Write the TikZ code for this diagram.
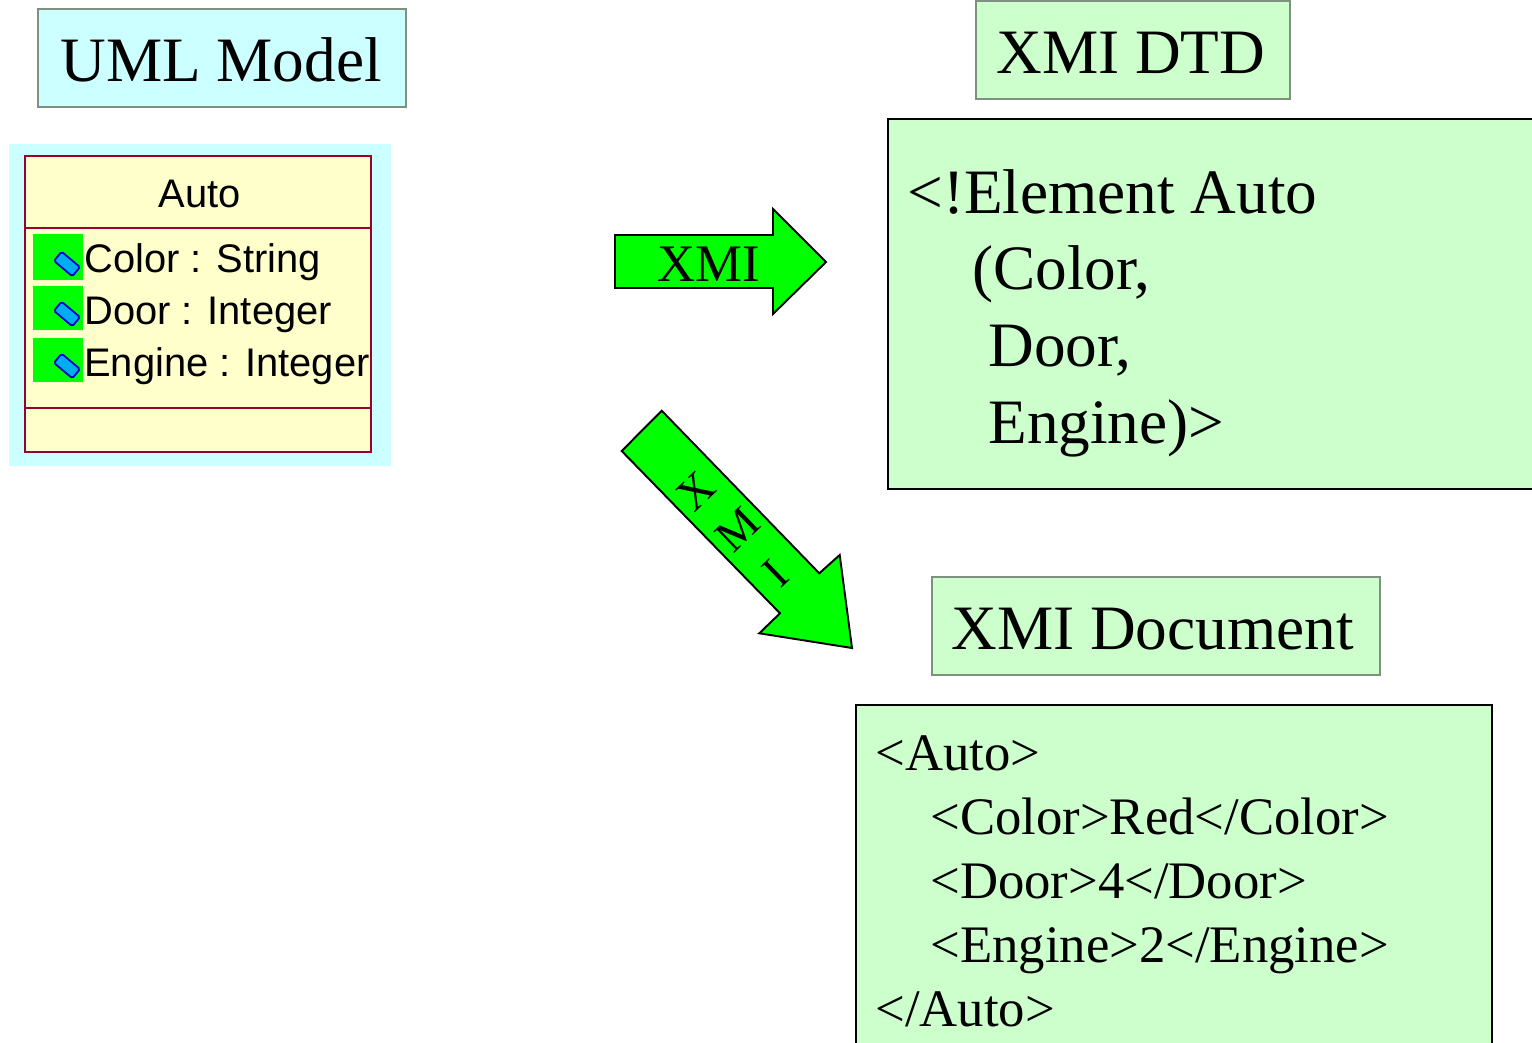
\documentclass[tikz,border=0pt]{standalone}
\usepackage{fontspec}
\setmainfont{Liberation Serif}
\setsansfont{Liberation Sans}
\definecolor{umlcyan}{RGB}{204,255,255}
\definecolor{xmigreen}{RGB}{204,255,204}
\definecolor{classyellow}{RGB}{255,255,204}
\definecolor{classred}{RGB}{153,0,51}
\definecolor{arrowgreen}{RGB}{0,255,0}
\definecolor{framegray}{RGB}{128,144,128}
\definecolor{iconblue}{RGB}{0,0,204}
\tikzset{
    bigtext/.style={anchor=base west, inner sep=0pt, font=\fontsize{36}{36}\selectfont},
    doctext/.style={anchor=base west, inner sep=0pt, font=\fontsize{30}{30}\selectfont},
    attrtext/.style={anchor=base west, inner sep=0pt, font=\sffamily\fontsize{22.7}{22.7}\selectfont},
    titlebox/.style={draw=framegray, line width=1.1pt},
    bodybox/.style={draw=black, line width=1.1pt, fill=xmigreen},
    classline/.style={draw=classred, line width=1.1pt},
    xmiarrow/.style={draw=black, line width=1.1pt, fill=arrowgreen, line join=miter},
}

\begin{document}
\begin{tikzpicture}[x=0.02cm, y=-0.02cm]
    \clip (0,0) rectangle (1532,1043);

    % UML side
    \draw[titlebox, fill=umlcyan] (38,9) rectangle (406,107);
    \node[bigtext] (umltitle) at (60,82) {UML Model};

    \fill[umlcyan] (9,144) rectangle (391,466);
    \fill[classyellow] (25,156) rectangle (371,452);
    \draw[classline] (25,156) rectangle (371,452);
    \draw[classline] (25,228) -- (371,228);
    \draw[classline] (25,408) -- (371,408);
    \node[attrtext, anchor=base] (classname) at (200,208) {Auto};

    \foreach \attr/\top/\bot/\base/\txt in {color/234/280/273/Color : String, door/286/330/325/Door : Integer, engine/338/382/377/Engine : Integer} {
        \fill[arrowgreen] (33,\top) rectangle (83,\bot);
        \draw[iconblue, fill=cyan, line width=1pt, rounded corners=1pt, rotate around={-40:(67,\bot-16)}]
            (55,\bot-22) rectangle (79,\bot-10);
        \node[attrtext] (\attr) at (84,\base) {\txt};
    }

    % arrows
    \draw[xmiarrow] (615,235) -- (773,235) -- (773,209) -- (826,262) -- (773,314) -- (773,288) -- (615,288) -- cycle;
    \node[doctext, anchor=base] (xmiright) at (709,282) {XMI};

    \draw[xmiarrow] (661.7,410.7) -- (621.7,451) -- (780,613.3) -- (759.3,633.3) -- (852,648) -- (839.7,555) -- (819.3,573.3) -- cycle;
    \node[doctext, rotate=44] (xmix) at (696,491) {};
    \node[font=\fontsize{26}{26}\selectfont, inner sep=0pt, rotate=44] (letterx) at (696,491) {X};
    \node[font=\fontsize{26}{26}\selectfont, inner sep=0pt, rotate=44] (letterm) at (738,530) {M};
    \node[font=\fontsize{26}{26}\selectfont, inner sep=0pt, rotate=44] (letteri) at (776,573) {I};

    % DTD
    \draw[titlebox, fill=xmigreen] (976,1) rectangle (1290,99);
    \node[bigtext] (dtdtitle) at (996,74) {XMI DTD};
    \draw[bodybox] (888,119) rectangle (1545,489);
    \node[bigtext] (dtdone) at (907,214) {<!Element Auto};
    \node[bigtext] (dtdtwo) at (972,290) {(Color,};
    \node[bigtext] (dtdthree) at (988,367) {Door,};
    \node[bigtext] (dtdfour) at (988,444) {Engine)>};

    % document
    \draw[titlebox, fill=xmigreen] (932,577) rectangle (1380,675);
    \node[bigtext] (doctitle) at (951,650) {XMI Document};
    \draw[bodybox] (856,705) rectangle (1492,1060);
    \node[doctext] (docone) at (875,770) {<Auto>};
    \node[doctext] (doctwo) at (930,834) {<Color>Red</Color>};
    \node[doctext] (docthree) at (930,898) {<Door>4</Door>};
    \node[doctext] (docfour) at (930,962) {<Engine>2</Engine>};
    \node[doctext] (docfive) at (875,1026) {</Auto>};
\end{tikzpicture}
\end{document}
